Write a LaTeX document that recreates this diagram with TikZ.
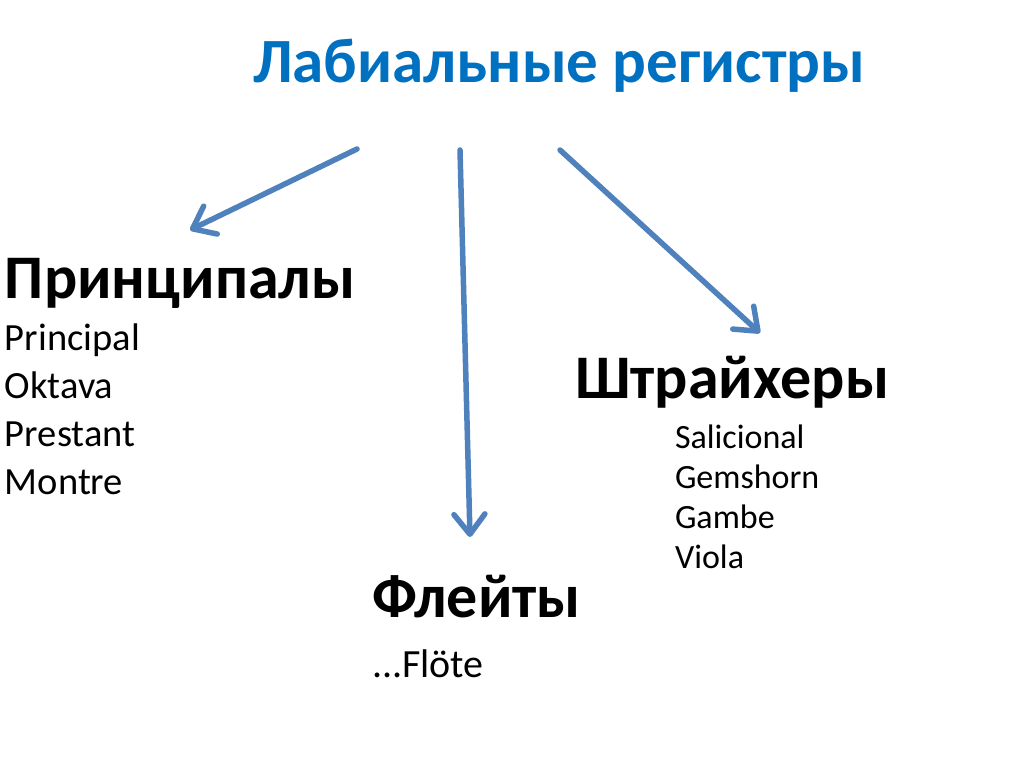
\documentclass[tikz,border=0pt]{standalone}
\usepackage{fontspec}
\setmainfont{Carlito}
\usetikzlibrary{arrows.meta}
\definecolor{titleblue}{RGB}{0,112,192}
\definecolor{arrowblue}{RGB}{79,129,189}
\begin{document}
\begin{tikzpicture}[x=1pt,y=-1pt,
  txt/.style={anchor=base west,inner sep=0pt,outer sep=0pt},
  ttl/.style={txt,font=\fontsize{63}{75}\selectfont\bfseries,text=titleblue},
  head/.style={txt,font=\fontsize{62}{74}\selectfont\bfseries},
  item/.style={txt,font=\fontsize{38.5}{46}\selectfont},
  sitem/.style={txt,font=\fontsize{34}{40}\selectfont},
  arr/.style={draw=arrowblue,line width=5.5pt,line cap=round,
    -{Straight Barb[length=20pt,width=31pt,line cap=round,line join=round]}}]
\useasboundingbox[fill=white] (0,0) rectangle (1024,767);
\node[ttl] (title) at (253,83) {Лабиальные регистры};
\node[head] (princ) at (5,298) {Принципалы};
\node[item] (p1) at (5,350) {Principal};
\node[item] (p2) at (5,398) {Oktava};
\node[item] (p3) at (5,446) {Prestant};
\node[item] (p4) at (5,494) {Montre};
\node[head] (stra) at (575,398) {Штрайхеры};
\node[sitem] (s1) at (675,448) {Salicional};
\node[sitem] (s2) at (675,488) {Gemshorn};
\node[sitem] (s3) at (675,528) {Gambe};
\node[sitem] (s4) at (675,568) {Viola};
\node[head] (flei) at (372,617) {Флейты};
\node[item,font=\fontsize{40}{48}\selectfont] (f1) at (372,677) {...Flöte};
\coordinate (a1s) at (357,149);
\coordinate (a1e) at (190,230);
\coordinate (a2s) at (460,150);
\coordinate (a2e) at (470,537);
\coordinate (a3s) at (560,150);
\coordinate (a3e) at (760,333);
\draw[arr] (a1s) -- (a1e);
\draw[arr] (a2s) -- (a2e);
\draw[arr] (a3s) -- (a3e);
\end{tikzpicture}
\end{document}
